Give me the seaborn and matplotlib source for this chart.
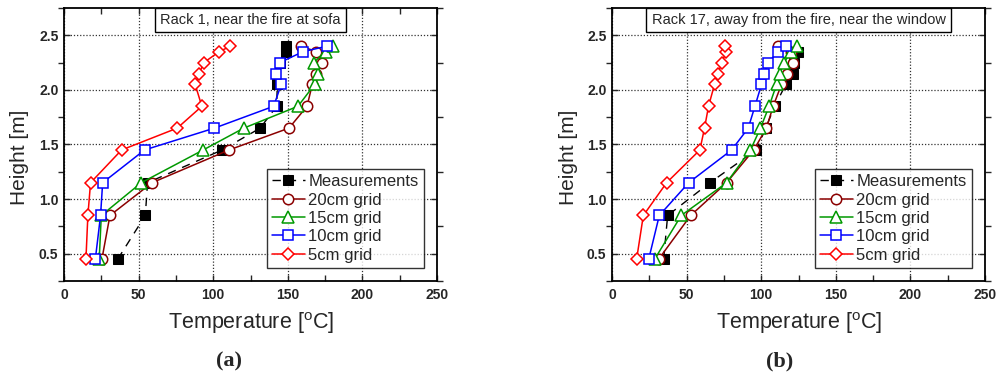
import matplotlib
matplotlib.use("Agg")
import matplotlib.pyplot as plt
import seaborn as sns
import numpy as np
import pandas as pd

sns.set_theme(style="white")
plt.rcParams['font.family'] = ['Liberation Sans', 'DejaVu Sans']
plt.rcParams['mathtext.fontset'] = 'custom'
plt.rcParams['mathtext.rm'] = 'Liberation Sans'

# ---------------- data ----------------
heights = [0.45, 0.85, 1.15, 1.45, 1.65, 1.85, 2.05, 2.15, 2.25, 2.35, 2.40]

# Panel (a): Rack 1
meas_a_h = [0.45, 0.85, 1.15, 1.45, 1.65, 1.85, 2.05, 2.25, 2.35, 2.40]
meas_a_T = [36.0, 54.5, 56.0, 106.0, 131.5, 142.5, 143.0, 145.0, 148.5, 148.5]
g20_a = [25.4, 30.8, 59.0, 110.6, 150.8, 162.9, 166.4, 169.1, 173.1, 169.1, 159.1]
g15_a = [23.6, 25.0, 51.8, 93.3, 120.5, 156.8, 168.0, 170.2, 167.3, 175.3, 180.2]
g10_a = [21.0, 24.5, 25.9, 54.0, 100.8, 140.5, 145.6, 142.3, 144.6, 160.2, 176.2]
g5_a = [14.7, 16.0, 17.8, 38.6, 75.9, 92.4, 87.9, 90.6, 93.7, 104.0, 111.5]

# Panel (b): Rack 17
meas_b_h = [0.45, 0.85, 1.15, 1.45, 1.65, 1.85, 2.05, 2.15, 2.25, 2.35]
meas_b_T = [34.6, 37.3, 65.6, 96.7, 103.0, 109.0, 116.5, 121.2, 122.0, 124.8]
g20_b = [31.3, 52.7, 76.8, 95.0, 103.5, 108.0, 113.6, 117.0, 121.4, 120.0, 111.3]
g15_b = [28.6, 46.4, 76.8, 92.8, 99.5, 105.3, 110.3, 112.5, 115.2, 120.3, 123.7]
g10_b = [24.6, 31.7, 51.4, 80.2, 91.3, 95.8, 100.2, 101.8, 104.7, 111.3, 116.5]
g5_b = [16.5, 21.0, 36.6, 58.9, 62.0, 64.7, 68.7, 71.0, 73.7, 76.4, 75.9]

titles = ["Rack 1, near the fire at sofa",
          "Rack 17, away from the fire, near the window"]
panel_labels = ["(a)", "(b)"]
series_names = ["20cm grid", "15cm grid", "10cm grid", "5cm grid"]
series_colors = ["#8B0000", "#009900", "#0000FF", "#FF0000"]
series_markers = ["o", "^", "s", "D"]
series_msize = [7.5, 8, 7, 6.5]

x_ticks = [0, 50, 100, 150, 200, 250]
y_ticks = [0.5, 1.0, 1.5, 2.0, 2.5]

# ---------------- figure ----------------
fig = plt.figure(figsize=(9.97, 3.80), dpi=100)
W, H = 997, 380
ax_rects = [(64, 8, 373, 273), (612, 8, 373, 273)]

panels = [
    (meas_a_h, meas_a_T, [g20_a, g15_a, g10_a, g5_a]),
    (meas_b_h, meas_b_T, [g20_b, g15_b, g10_b, g5_b]),
]

for i, (mh, mT, grids) in enumerate(panels):
    l, t, w, h = ax_rects[i]
    ax = fig.add_axes([l / W, 1 - (t + h) / H, w / W, h / H])

    df_m = pd.DataFrame({"T": mT, "h": mh})
    sns.lineplot(data=df_m, x="T", y="h", sort=False, estimator=None, ax=ax,
                 color="black", linestyle=(0, (6, 5)), linewidth=1.0,
                 marker="s", markersize=7, markerfacecolor="black",
                 markeredgecolor="black", label="Measurements", zorder=3)
    for j, vals in enumerate(grids):
        df = pd.DataFrame({"T": vals, "h": heights})
        sns.lineplot(data=df, x="T", y="h", sort=False, estimator=None, ax=ax,
                     color=series_colors[j], linewidth=1.1,
                     marker=series_markers[j], markersize=series_msize[j],
                     markerfacecolor="white", markeredgecolor=series_colors[j],
                     markeredgewidth=1.1, label=series_names[j], zorder=4 + j)

    ax.set_xlim(0, 250)
    ax.set_ylim(0.25, 2.75)
    ax.set_xticks(x_ticks)
    ax.set_yticks(y_ticks)
    ax.set_xticks(np.arange(25, 250, 50), minor=True)
    ax.set_yticks(np.arange(0.25, 2.76, 0.5), minor=True)
    ax.set_xticklabels([str(v) for v in x_ticks], fontsize=10, fontweight="bold")
    ax.set_yticklabels([f"{v:.1f}" for v in y_ticks], fontsize=10, fontweight="bold")
    ax.grid(True, which="major", linestyle=(0, (1, 1.5)), color="#333333", linewidth=0.9)
    ax.tick_params(axis="x", which="both", direction="in", top=True, bottom=True,
                   length=4, width=1, pad=5)
    ax.tick_params(axis="y", which="both", direction="in", right=True, left=True,
                   length=4, width=1, pad=4)
    ax.tick_params(axis="y", which="both", left=True, direction="out")
    ax.tick_params(axis="y", which="major", right=True, direction="in")
    for s in ax.spines.values():
        s.set_color("black")
        s.set_linewidth(1.3)
    ax.set_xlabel("")
    ax.set_ylabel("")

    ax.text(0.5, 0.982, titles[i], transform=ax.transAxes, ha="center", va="top",
            fontsize=10.5, zorder=10,
            bbox=dict(boxstyle="square,pad=0.35", facecolor="white",
                      edgecolor="black", linewidth=1))

    leg = ax.legend(loc="lower right", fontsize=12, frameon=True, fancybox=False,
                    borderaxespad=0.8, handlelength=2.0, handletextpad=0.2,
                    labelspacing=0.2, borderpad=0.3)
    leg.get_frame().set_edgecolor("black")
    leg.get_frame().set_linewidth(1.0)
    leg.set_zorder(20)

    cx = (l + w / 2) / W
    fig.text(cx + 1 / W, 1 - 323 / H, r"Temperature [$^{\rm o}$C]", ha="center",
             va="center", fontsize=15.5)
    fig.text((229 if i == 0 else 780) / W, 1 - 361 / H, panel_labels[i],
             ha="center", va="center", fontsize=16, fontweight="bold",
             family=["Liberation Serif", "DejaVu Serif"])
    fig.text((20 if i == 0 else 568) / W, 1 - 157 / H, "Height [m]",
             rotation=90, ha="center", va="center", fontsize=15)

fig.savefig("out.png", dpi=100)
